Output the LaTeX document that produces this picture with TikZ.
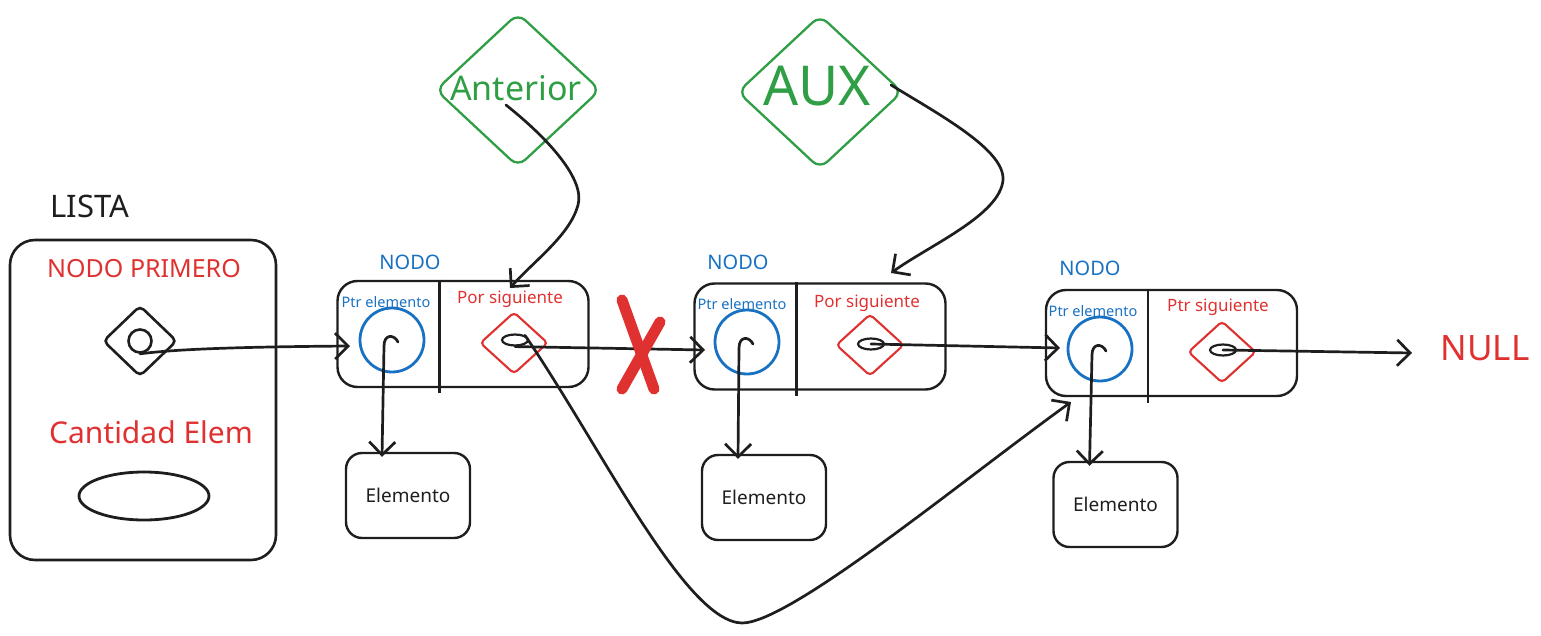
\documentclass[tikz,border=0pt]{standalone}
\usepackage{fontspec}
\setmainfont{Noto Sans}
\usetikzlibrary{arrows.meta,shapes.geometric,calc}
\definecolor{ink}{HTML}{1E1E1E}
\definecolor{xred}{HTML}{E03131}
\definecolor{xblue}{HTML}{1971C2}
\definecolor{xgreen}{HTML}{2F9E44}
\newcommand\setfs[1]{\fontsize{#1}{#1}\selectfont}
\begin{document}
\begin{tikzpicture}[x=1pt,y=-1pt,
  txt/.style={inner sep=0pt, anchor=center},
  nbox/.style={draw=ink, line width=2.4pt, rounded corners=20pt, minimum width=251pt, minimum height=106pt, inner sep=0pt},
  elem/.style={draw=ink, line width=2.4pt, rounded corners=16pt, minimum width=124pt, minimum height=85pt, inner sep=0pt, font=\setfs{19}, text=ink},
  ptrc/.style={circle, draw=xblue, line width=2.8pt, minimum size=64pt, inner sep=0pt},
  sigd/.style={diamond, draw=xred, line width=2.1pt, minimum width=68pt, minimum height=62pt, inner sep=0pt, rounded corners=4pt},
  ovl/.style={ellipse, draw=ink, line width=2.2pt, minimum width=26pt, minimum height=11pt, inner sep=0pt},
  gdia/.style={diamond, draw=xgreen, line width=2.3pt, minimum width=165pt, minimum height=154pt, inner sep=0pt, rounded corners=10pt},
  divl/.style={draw=ink, line width=2.4pt},
  arr/.style={draw=ink, line width=2.7pt, line cap=round, line join=round, -{Straight Barb[length=13pt,width=26pt]}},
  nodol/.style={txt, text=xblue, font=\setfs{20}},
  ptrl/.style={txt, text=xblue, font=\setfs{14.5}},
  sigl/.style={txt, text=xred, font=\setfs{17}}
]
\useasboundingbox (0,0) rectangle (1541,636);

% LISTA
\node[txt, text=ink, font=\setfs{31}] (listaL) at (90,206) {LISTA};
\node[draw=ink, line width=2.6pt, rounded corners=25pt, minimum width=266pt, minimum height=320pt, inner sep=0pt] (lista) at (143,400) {};
\node[txt, text=xred, font=\setfs{25}] (primL) at (144,269) {NODO PRIMERO};
\node[diamond, draw=ink, line width=2.6pt, minimum width=74pt, minimum height=71pt, inner sep=0pt, rounded corners=5pt] (pd) at (140,341) {};
\node[circle, draw=ink, line width=2.6pt, minimum size=23pt, inner sep=0pt] (pc) at (140,341) {};
\node[txt, text=xred, font=\setfs{30}] (cantL) at (151,432) {Cantidad Elem};
\node[ellipse, draw=ink, line width=2.8pt, minimum width=130pt, minimum height=48pt, inner sep=0pt] (cant) at (144,496) {};

% NODO 1
\node[nodol] (nodo1L) at (410,262) {NODO};
\node[nbox] (n1) at (463,334) {};
\draw[divl] ($(n1.north west)+(103,0)$) -- ++(0,113);
\node[ptrl] (p1L) at (386,302) {Ptr elemento};
\node[sigl] (s1L) at (510,299) {Por siguiente};
\node[ptrc] (c1) at (392,340) {};
\node[sigd] (d1) at (514,343) {};
\node[ovl] (o1) at (515,340) {};
\node[elem] (e1) at (408,495.5) {Elemento};

% NODO 2
\node[nodol] (nodo2L) at (738,262) {NODO};
\node[nbox] (n2) at (820,336.5) {};
\draw[divl] ($(n2.north west)+(103,0)$) -- ++(0,114);
\node[ptrl] (p2L) at (742,304) {Ptr elemento};
\node[sigl] (s2L) at (867,303) {Por siguiente};
\node[ptrc] (c2) at (747,342) {};
\node[sigd] (d2) at (870,345) {};
\node[ovl] (o2) at (871,344) {};
\node[elem] (e2) at (764,497.5) {Elemento};

% NODO 3
\node[nodol] (nodo3L) at (1090,268) {NODO};
\node[nbox] (n3) at (1171.5,343) {};
\draw[divl] ($(n3.north west)+(103,0)$) -- ++(0,114);
\node[ptrl] (p3L) at (1093,311) {Ptr elemento};
\node[sigl] (s3L) at (1218,307) {Ptr siguiente};
\node[ptrc] (c3) at (1100,349) {};
\node[sigd] (d3) at (1222,352) {};
\node[ovl] (o3) at (1223,350) {};
\node[elem] (e3) at (1115.5,504.5) {Elemento};

\node[txt, text=xred, font=\setfs{35}] (null) at (1485,348) {NULL};

% green pointers
\node[gdia] (ant) at (518,90) {};
\node[txt, text=xgreen, font=\setfs{34}] (antL) at (516,88) {Anterior};
\node[gdia] (aux) at (820,92) {};
\node[txt, text=xgreen, font=\setfs{55}] (auxL) at (817,86) {AUX};

% connector ends
\coordinate (t1) at (350,346);
\coordinate (t2) at (705,350);
\coordinate (t3) at (1071,402);
\coordinate (t4) at (1060,348);
\coordinate (t5) at (1412,353);
\coordinate (t6) at (510,288);
\coordinate (t7) at (891,273);
\coordinate (as) at ($(ant.center)+(-12,15)$);
\coordinate (xs) at ($(aux.center)+(71,-7)$);

% connectors
\draw[arr] (pc.south) .. controls (170,350) and (220,347) .. (t1);
\foreach \c/\e in {c1/e1,c2/e2,c3/e3}{
  \draw[arr] ($(\c.center)+(6,2)$) .. controls ($(\c.center)+(2,-6)$) and ($(\c.center)+(-8,-6)$) .. ($(\c.center)+(-8,6)$) -- ($(\e.north)+(-26,5)$);
}
\draw[arr] (o1.south) -- (t2);
\draw[arr] (o1.north east) .. controls (600,445) and (685,622) .. (742,623) .. controls (790,623) and (960,482) .. (t3);
\draw[arr] (o2.center) -- (t4);
\draw[arr] (o3.center) -- (t5);
\draw[arr] (as) .. controls (550,140) and (585,180) .. (578,205) .. controls (570,235) and (535,260) .. (t6);
\draw[arr] (xs) .. controls (940,115) and (1005,150) .. (1003,180) .. controls (1000,215) and (930,245) .. (t7);

% red cross
\draw[xred, line width=11pt, line cap=round] (622,300) -- (654,389);
\draw[xred, line width=11pt, line cap=round] (660,322) -- (622,389);
\end{tikzpicture}
\end{document}
